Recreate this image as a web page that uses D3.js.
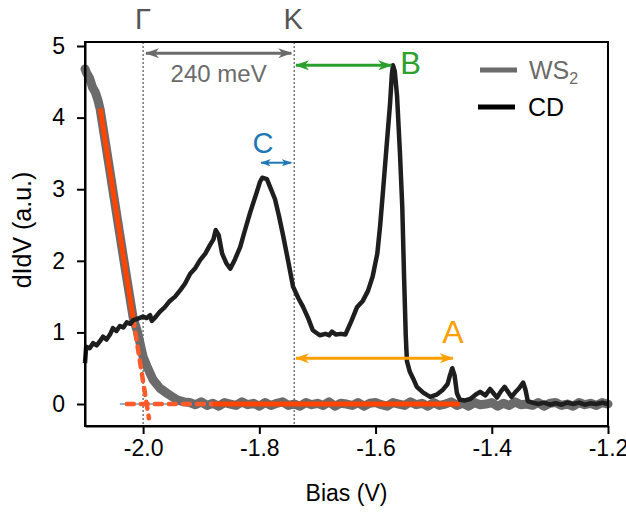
<!DOCTYPE html>
<meta charset="utf-8">
<style>
body { margin: 0; background: #fff; }
text { font-family: "Liberation Sans", Arial, sans-serif; }
</style>
<svg width="626" height="512"></svg>
<script src="https://cdn.jsdelivr.net/npm/d3@7/dist/d3.min.js"></script>
<script>
var svg = d3.select("svg");

// plot box
var boxLeft = 85, boxRight = 608, boxTop = 42, boxBottom = 426;

// ticks
var xTicks = [-2.0, -1.8, -1.6, -1.4, -1.2];
var yTicks = [0, 1, 2, 3, 4, 5];

// band edges
var gammaV = -2.0, kV = -1.74;

// CD spectrum [bias, dIdV]
var cdData = [
  [-2.100,0.57],[-2.098,0.80],[-2.092,0.78],[-2.086,0.85],[-2.080,0.82],[-2.074,0.88],
  [-2.069,0.94],[-2.063,0.90],[-2.057,0.97],[-2.052,1.06],[-2.046,1.02],[-2.040,1.09],
  [-2.034,1.07],[-2.028,1.14],[-2.022,1.12],[-2.017,1.17],[-2.010,1.19],[-2.000,1.22],
  [-1.994,1.20],[-1.988,1.24],[-1.985,1.16],[-1.978,1.22],[-1.971,1.29],[-1.963,1.35],
  [-1.954,1.44],[-1.945,1.50],[-1.936,1.59],[-1.928,1.68],[-1.919,1.82],[-1.910,1.90],
  [-1.902,2.01],[-1.893,2.10],[-1.885,2.22],[-1.879,2.30],[-1.875,2.43],[-1.870,2.36],
  [-1.864,2.10],[-1.857,1.97],[-1.850,1.89],[-1.842,2.02],[-1.833,2.19],[-1.825,2.42],
  [-1.816,2.67],[-1.810,2.82],[-1.804,2.97],[-1.799,3.10],[-1.795,3.16],[-1.791,3.15],
  [-1.787,3.14],[-1.780,3.00],[-1.773,2.86],[-1.766,2.62],[-1.759,2.35],[-1.750,1.98],
  [-1.742,1.64],[-1.733,1.48],[-1.725,1.36],[-1.716,1.20],[-1.708,1.03],[-1.696,0.96],
  [-1.686,0.98],[-1.680,0.96],[-1.675,1.01],[-1.668,0.97],[-1.660,0.98],[-1.652,0.97],
  [-1.642,1.15],[-1.632,1.35],[-1.622,1.44],[-1.613,1.58],[-1.605,1.78],[-1.597,2.10],
  [-1.592,2.50],[-1.587,2.99],[-1.581,3.60],[-1.575,4.20],[-1.572,4.60],[-1.570,4.73],
  [-1.567,4.65],[-1.563,4.30],[-1.558,3.50],[-1.554,2.75],[-1.551,1.80],[-1.548,0.95],
  [-1.546,0.60],[-1.541,0.45],[-1.535,0.35],[-1.529,0.24],[-1.518,0.16],[-1.506,0.10],
  [-1.495,0.13],[-1.484,0.20],[-1.476,0.28],[-1.472,0.40],[-1.468,0.50],[-1.464,0.40],
  [-1.460,0.15],[-1.455,0.06],[-1.446,0.05],[-1.437,0.07],[-1.428,0.13],[-1.420,0.17],
  [-1.411,0.12],[-1.403,0.21],[-1.397,0.15],[-1.391,0.09],[-1.384,0.18],[-1.378,0.24],
  [-1.372,0.17],[-1.366,0.10],[-1.360,0.16],[-1.353,0.22],[-1.346,0.30],[-1.342,0.20],
  [-1.338,0.04],[-1.330,0.02],[-1.320,0.00],[-1.310,0.02],[-1.300,-0.01],[-1.290,0.01],
  [-1.280,-0.01],[-1.270,0.02],[-1.260,0.00],[-1.250,0.02],[-1.240,-0.01],[-1.230,0.01],
  [-1.220,0.00],[-1.210,0.02],[-1.200,0.00]
];

// WS2 spectrum [bias, dIdV]
var wsData = [
  [-2.100,4.68],[-2.097,4.62],[-2.092,4.55],[-2.087,4.42],[-2.082,4.35],[-2.078,4.25],
  [-2.074,4.12],[-2.060,3.40],[-2.045,2.62],[-2.030,1.85],[-2.017,1.20],[-2.010,1.02],
  [-2.000,0.66],[-1.992,0.50],[-1.983,0.34],[-1.971,0.22],[-1.959,0.15],[-1.942,0.06],
  [-1.930,0.03],
  [-1.92,0.02],[-1.91,-0.01],[-1.90,0.03],[-1.89,-0.02],[-1.88,0.01],[-1.87,-0.03],
  [-1.86,0.02],[-1.85,0.00],[-1.84,-0.02],[-1.83,0.03],[-1.82,-0.01],[-1.81,0.01],
  [-1.80,-0.03],[-1.79,0.02],[-1.78,-0.02],[-1.77,0.01],[-1.76,0.03],[-1.75,-0.02],
  [-1.74,0.00],[-1.73,-0.03],[-1.72,0.02],[-1.71,-0.01],[-1.70,0.01],[-1.69,-0.02],
  [-1.68,0.03],[-1.67,-0.03],[-1.66,0.01],[-1.65,0.00],[-1.64,-0.02],[-1.63,0.02],
  [-1.62,-0.03],[-1.61,0.01],[-1.60,0.02],[-1.59,-0.01],[-1.58,-0.03],[-1.57,0.02],
  [-1.56,0.00],[-1.55,-0.02],[-1.54,0.03],[-1.53,-0.01],[-1.52,0.01],[-1.51,-0.03],
  [-1.50,0.02],[-1.49,-0.02],[-1.48,0.00],[-1.47,0.03],[-1.46,-0.02],[-1.45,0.01],
  [-1.44,-0.03],[-1.43,0.02],[-1.42,-0.01],[-1.41,0.00],[-1.40,0.02],[-1.39,-0.03],
  [-1.38,0.01],[-1.37,-0.02],[-1.36,0.03],[-1.35,-0.01],[-1.34,0.00],[-1.33,-0.02],
  [-1.32,0.02],[-1.31,-0.03],[-1.30,0.01],[-1.29,0.02],[-1.28,-0.02],[-1.27,0.00],
  [-1.26,-0.03],[-1.25,0.02],[-1.24,-0.01],[-1.23,0.01],[-1.22,-0.02],[-1.21,0.02],
  [-1.20,0.00]
];

// linear fits
var fitSolid = [[-2.074,4.13],[-2.017,1.19]];
var fitDashV = [[-2.017,1.19],[-1.990,-0.20]];
var fitDashH = [[-2.028,0],[-1.880,0]];
var fitSolidH = [[-1.880,0],[-1.455,0]];
var baseLine = [[-2.040,0],[-1.700,0]];

// energy arrows
var arrows = [
  {id: "g", x0: -1.995, x1: -1.745, y: 4.90, color: "#6b6b6b", w: 3, label: "240 meV"},
  {id: "b", x0: -1.737, x1: -1.573, y: 4.73, color: "#2ca02c", w: 3, label: "B"},
  {id: "c", x0: -1.797, x1: -1.745, y: 3.37, color: "#1f77b4", w: 2, label: "C"},
  {id: "a", x0: -1.737, x1: -1.467, y: 0.64, color: "#ffa000", w: 3, label: "A"}
];

var x = d3.scaleLinear().domain([-2.1, -1.2]).range([boxLeft, boxRight]);
var y = d3.scaleLinear().domain([-0.307, 5.056]).range([boxBottom, boxTop]);

var line = d3.line().x(function(d){ return x(d[0]); }).y(function(d){ return y(d[1]); });

// markers
var defs = svg.append("defs");
arrows.forEach(function(a) {
  var s = a.w < 3 ? 0.75 : 1;
  defs.append("marker")
    .attr("id", "m" + a.id)
    .attr("markerUnits", "userSpaceOnUse")
    .attr("viewBox", "0 0 14 10")
    .attr("refX", 13).attr("refY", 5)
    .attr("markerWidth", 14 * s).attr("markerHeight", 10 * s)
    .attr("orient", "auto-start-reverse")
    .append("path")
    .attr("d", "M0,0 L14,5 L0,10 L4,5 Z")
    .attr("fill", a.color);
});

// dotted band-edge lines
svg.selectAll(".edge").data([gammaV, kV]).enter().append("line")
  .attr("x1", function(d){ return x(d); }).attr("x2", function(d){ return x(d); })
  .attr("y1", boxTop).attr("y2", boxBottom)
  .attr("stroke", "#555").attr("stroke-width", 1.2).attr("stroke-dasharray", "2,2");

// WS2
svg.append("path").datum(wsData).attr("d", line)
  .attr("fill", "none").attr("stroke", "#6b6b6b").attr("stroke-width", 9)
  .attr("stroke-linejoin", "round").attr("stroke-linecap", "round");

// thin baseline
svg.append("path").datum(baseLine).attr("d", line)
  .attr("fill", "none").attr("stroke", "#1f77b4").attr("stroke-width", 1.2);

// fits
[fitDashV, fitDashH].forEach(function(f) {
  svg.append("path").datum(f).attr("d", line)
    .attr("fill", "none").attr("stroke", "#ff5a2a").attr("stroke-width", 4.5)
    .attr("stroke-dasharray", "7,7").attr("stroke-linecap", "round");
});
[fitSolid, fitSolidH].forEach(function(f) {
  svg.append("path").datum(f).attr("d", line)
    .attr("fill", "none").attr("stroke", "#ff4500").attr("stroke-width", 5);
});

// CD
svg.append("path").datum(cdData).attr("d", line)
  .attr("fill", "none").attr("stroke", "#1e1e1e").attr("stroke-width", 4.5)
  .attr("stroke-linejoin", "round");

// arrows
arrows.forEach(function(a) {
  svg.append("line")
    .attr("x1", x(a.x0)).attr("x2", x(a.x1))
    .attr("y1", y(a.y)).attr("y2", y(a.y))
    .attr("stroke", a.color).attr("stroke-width", a.w)
    .attr("marker-start", "url(#m" + a.id + ")")
    .attr("marker-end", "url(#m" + a.id + ")");
});

svg.append("text").attr("x", (x(arrows[0].x0) + x(arrows[0].x1)) / 2).attr("y", 82)
  .attr("text-anchor", "middle").attr("font-size", 24).attr("fill", "#6b6b6b").text("240 meV");
svg.append("text").attr("x", x(arrows[1].x1) + 9).attr("y", 74)
  .attr("font-size", 31).attr("fill", arrows[1].color).text("B");
svg.append("text").attr("x", x(arrows[2].x0) + 2).attr("y", 153)
  .attr("text-anchor", "middle").attr("font-size", 29).attr("fill", arrows[2].color).text("C");
svg.append("text").attr("x", x(arrows[3].x1)).attr("y", 343)
  .attr("text-anchor", "middle").attr("font-size", 32).attr("fill", arrows[3].color).text("A");

// Γ, K
svg.append("text").attr("x", x(gammaV)).attr("y", 29)
  .attr("text-anchor", "middle").attr("font-size", 29).attr("fill", "#555").text("Γ");
svg.append("text").attr("x", x(kV) - 1).attr("y", 29)
  .attr("text-anchor", "middle").attr("font-size", 29).attr("fill", "#555").text("K");

// frame
svg.append("rect").attr("x", boxLeft).attr("y", boxTop)
  .attr("width", boxRight - boxLeft).attr("height", boxBottom - boxTop)
  .attr("fill", "none").attr("stroke", "#000").attr("stroke-width", 2);

// axes
var xAxis = svg.append("g").attr("transform", "translate(0," + boxBottom + ")")
  .call(d3.axisBottom(x).tickValues(xTicks).tickSize(8).tickSizeOuter(0).tickPadding(6)
    .tickFormat(function(d){ return d.toFixed(1); }));
var yAxis = svg.append("g").attr("transform", "translate(" + boxLeft + ",0)")
  .call(d3.axisLeft(y).tickValues(yTicks).tickSize(8).tickSizeOuter(0).tickPadding(12)
    .tickFormat(d3.format("d")));
[xAxis, yAxis].forEach(function(g) {
  g.select(".domain").attr("stroke-width", 2);
  g.selectAll(".tick line").attr("stroke-width", 2);
  g.selectAll(".tick text").attr("font-size", 23).attr("fill", "#000")
    .attr("font-family", "Liberation Sans, Arial, sans-serif");
});

svg.append("text").attr("x", (boxLeft + boxRight) / 2).attr("y", 501)
  .attr("text-anchor", "middle").attr("font-size", 23).text("Bias (V)");
svg.append("text").attr("transform", "translate(31,230) rotate(-90)")
  .attr("text-anchor", "middle").attr("font-size", 25).text("dIdV (a.u.)");

// legend
svg.append("line").attr("x1", 480).attr("x2", 517).attr("y1", 70).attr("y2", 70)
  .attr("stroke", "#6b6b6b").attr("stroke-width", 5);
var ws = svg.append("text").attr("x", 529).attr("y", 79).attr("font-size", 25).attr("fill", "#6b6b6b");
ws.append("tspan").text("WS");
ws.append("tspan").attr("font-size", 16).attr("dy", 5).text("2");
svg.append("line").attr("x1", 478).attr("x2", 515).attr("y1", 107).attr("y2", 107)
  .attr("stroke", "#000").attr("stroke-width", 5);
svg.append("text").attr("x", 528).attr("y", 116).attr("font-size", 25).attr("fill", "#000").text("CD");
</script>
